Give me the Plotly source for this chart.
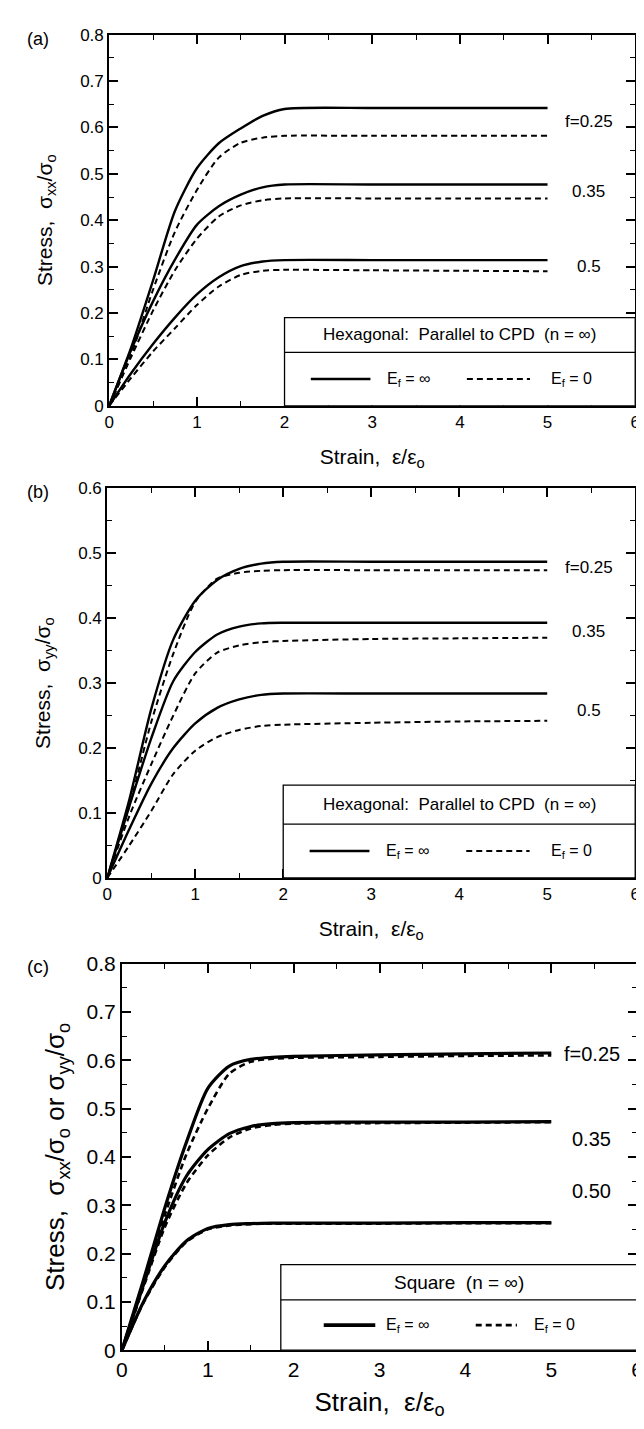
import plotly.graph_objects as go

# ---------------- data ----------------
strain = [0, 0.25, 0.5, 0.75, 1.0, 1.25, 1.5, 1.75, 2.0, 3.0, 4.0, 5.0]

# Panel (a): Hexagonal, parallel to CPD, sigma_xx
a_solid_025 = [0, 0.125, 0.27, 0.42, 0.512, 0.566, 0.598, 0.625, 0.640, 0.642, 0.642, 0.642]
a_dash_025  = [0, 0.11, 0.25, 0.375, 0.465, 0.535, 0.567, 0.578, 0.582, 0.582, 0.582, 0.582]
a_solid_035 = [0, 0.12, 0.225, 0.315, 0.39, 0.43, 0.455, 0.471, 0.477, 0.477, 0.477, 0.477]
a_dash_035  = [0, 0.105, 0.205, 0.292, 0.36, 0.408, 0.432, 0.443, 0.447, 0.447, 0.447, 0.447]
a_solid_050 = [0, 0.07, 0.133, 0.19, 0.24, 0.277, 0.301, 0.311, 0.314, 0.314, 0.314, 0.314]
a_dash_050  = [0, 0.06, 0.117, 0.167, 0.217, 0.257, 0.282, 0.291, 0.293, 0.292, 0.291, 0.290]

# Panel (b): Hexagonal, parallel to CPD, sigma_yy
b_solid_025 = [0, 0.12, 0.26, 0.367, 0.427, 0.459, 0.476, 0.484, 0.487, 0.487, 0.487, 0.487]
b_dash_025  = [0, 0.11, 0.24, 0.345, 0.425, 0.461, 0.470, 0.473, 0.474, 0.474, 0.474, 0.474]
b_solid_035 = [0, 0.11, 0.215, 0.303, 0.348, 0.375, 0.387, 0.392, 0.393, 0.393, 0.393, 0.393]
b_dash_035  = [0, 0.095, 0.175, 0.25, 0.315, 0.347, 0.358, 0.363, 0.365, 0.368, 0.369, 0.370]
b_solid_050 = [0, 0.075, 0.145, 0.20, 0.238, 0.262, 0.275, 0.282, 0.284, 0.284, 0.284, 0.284]
b_dash_050  = [0, 0.05, 0.103, 0.16, 0.196, 0.217, 0.228, 0.234, 0.236, 0.239, 0.241, 0.242]

# Panel (c): Square
c_solid_025 = [0, 0.145, 0.295, 0.43, 0.542, 0.588, 0.602, 0.606, 0.608, 0.611, 0.613, 0.615]
c_dash_025  = [0, 0.14, 0.28, 0.405, 0.50, 0.572, 0.597, 0.603, 0.605, 0.607, 0.609, 0.610]
c_solid_035 = [0, 0.135, 0.265, 0.36, 0.415, 0.448, 0.463, 0.469, 0.471, 0.472, 0.472, 0.473]
c_dash_035  = [0, 0.13, 0.255, 0.345, 0.403, 0.44, 0.459, 0.466, 0.469, 0.470, 0.471, 0.472]
c_solid_050 = [0, 0.10, 0.175, 0.226, 0.252, 0.260, 0.262, 0.263, 0.263, 0.263, 0.264, 0.264]
c_dash_050  = [0, 0.098, 0.172, 0.224, 0.250, 0.258, 0.261, 0.262, 0.262, 0.262, 0.263, 0.263]

labels_ab = ["f=0.25", "0.35", "0.5"]
labels_c = ["f=0.25", "0.35", "0.50"]
label_y_a = [0.612, 0.462, 0.300]
label_y_b = [0.478, 0.380, 0.258]
label_y_c = [0.612, 0.438, 0.330]

FONT = "Liberation Sans, Arial, Helvetica, sans-serif"
W, H = 644, 1429

def px_x(p):
    return p / W

def px_y(p):
    return 1 - p / H

fig = go.Figure()

panels = [
    dict(ax="", solids=[a_solid_025, a_solid_035, a_solid_050],
         dashes=[a_dash_025, a_dash_035, a_dash_050], lw=2.4, dw=2.0),
    dict(ax="2", solids=[b_solid_025, b_solid_035, b_solid_050],
         dashes=[b_dash_025, b_dash_035, b_dash_050], lw=2.4, dw=2.0),
    dict(ax="3", solids=[c_solid_025, c_solid_035, c_solid_050],
         dashes=[c_dash_025, c_dash_035, c_dash_050], lw=3.2, dw=2.6),
]

for p in panels:
    for ys in p["dashes"]:
        fig.add_trace(go.Scatter(x=strain, y=ys, mode="lines", xaxis="x" + p["ax"], yaxis="y" + p["ax"],
                                 line=dict(color="black", width=p["dw"], dash="6px,4px", shape="spline", smoothing=0.7),
                                 showlegend=False, hoverinfo="skip"))
    for ys in p["solids"]:
        fig.add_trace(go.Scatter(x=strain, y=ys, mode="lines", xaxis="x" + p["ax"], yaxis="y" + p["ax"],
                                 line=dict(color="black", width=p["lw"], shape="spline", smoothing=0.7),
                                 showlegend=False, hoverinfo="skip"))

def xaxis(domain, anchor, fs, title_fs, standoff):
    return dict(domain=domain, anchor=anchor, range=[0, 6], dtick=1, tick0=0,
                showline=True, linewidth=2, linecolor="black", mirror="ticks",
                ticks="inside", ticklen=9, tickwidth=1.5, tickcolor="black",
                minor=dict(ticks="inside", dtick=0.5, ticklen=5, tickwidth=1.2, tickcolor="black"),
                showgrid=False, zeroline=False,
                tickfont=dict(family=FONT, size=fs, color="black"),
                title=dict(text="Strain,  \u03b5/\u03b5<sub>o</sub>", font=dict(family=FONT, size=title_fs, color="black"),
                           standoff=standoff))

def yaxis(domain, anchor, top, fs, title, title_fs, standoff):
    return dict(domain=domain, anchor=anchor, range=[0, top], dtick=0.1, tick0=0,
                showline=True, linewidth=2, linecolor="black", mirror="ticks",
                ticks="inside", ticklen=9, tickwidth=1.5, tickcolor="black",
                minor=dict(ticks="inside", dtick=0.05, ticklen=5, tickwidth=1.2, tickcolor="black"),
                showgrid=False, zeroline=False,
                tickfont=dict(family=FONT, size=fs, color="black"),
                title=dict(text=title, font=dict(family=FONT, size=title_fs, color="black"), standoff=standoff))

fig.update_layout(
    width=W, height=H, margin=dict(l=0, r=0, t=0, b=0),
    paper_bgcolor="white", plot_bgcolor="white", showlegend=False,
    xaxis=xaxis([px_x(97), px_x(633)], "y", 17, 21, 18),
    yaxis=yaxis([px_y(392), px_y(15)], "x", 0.8, 17, "Stress,  \u03c3<sub>xx</sub>/\u03c3<sub>o</sub>", 21, 22),
    xaxis2=xaxis([px_x(95), px_x(633)], "y2", 17, 21, 18),
    yaxis2=yaxis([px_y(872), px_y(476)], "x2", 0.6, 17, "Stress,  \u03c3<sub>yy</sub>/\u03c3<sub>o</sub>", 21, 22),
    xaxis3=xaxis([px_x(110), px_x(635)], "y3", 21, 26, 12),
    yaxis3=yaxis([px_y(1352), px_y(959)], "x3", 0.8, 21,
                 "Stress,  \u03c3<sub>xx</sub>/\u03c3<sub>o</sub> or \u03c3<sub>yy</sub>/\u03c3<sub>o</sub>", 26, 14),
)

shapes = []
annotations = []

def legend_box(xr, yr, x0, top, div, header, hfs, solid_x, text1_x, dash_x, text2_x, fs, lw, dw):
    shapes.append(dict(type="rect", xref=xr, yref=yr, x0=x0, x1=6, y0=0, y1=top,
                       line=dict(color="black", width=1.3), fillcolor="white", layer="above"))
    shapes.append(dict(type="line", xref=xr, yref=yr, x0=x0, x1=6, y0=div, y1=div,
                       line=dict(color="black", width=1.3)))
    row = div / 2
    shapes.append(dict(type="line", xref=xr, yref=yr, x0=solid_x[0], x1=solid_x[1], y0=row, y1=row,
                       line=dict(color="black", width=lw)))
    shapes.append(dict(type="line", xref=xr, yref=yr, x0=dash_x[0], x1=dash_x[1], y0=row, y1=row,
                       line=dict(color="black", width=dw, dash="6px,4px")))
    annotations.append(dict(xref=xr, yref=yr, x=(x0 + 6) / 2, y=(top + div) / 2, text=header, showarrow=False,
                            font=dict(family=FONT, size=hfs, color="black"), xanchor="center", yanchor="middle"))
    annotations.append(dict(xref=xr, yref=yr, x=text1_x, y=row, text="E<sub>f</sub> = \u221e", showarrow=False,
                            font=dict(family=FONT, size=fs, color="black"), xanchor="left", yanchor="middle"))
    annotations.append(dict(xref=xr, yref=yr, x=text2_x, y=row, text="E<sub>f</sub> = 0", showarrow=False,
                            font=dict(family=FONT, size=fs, color="black"), xanchor="left", yanchor="middle"))

hex_head = "Hexagonal:  Parallel to CPD  (n = \u221e)"
legend_box("x", "y", 2.0, 0.19, 0.115, hex_head, 17, (2.3, 2.98), 3.15, (4.08, 4.8), 5.02, 16, 2.4, 2.0)
legend_box("x2", "y2", 2.0, 0.143, 0.083, hex_head, 17, (2.3, 2.98), 3.15, (4.08, 4.8), 5.02, 16, 2.4, 2.0)
legend_box("x3", "y3", 1.85, 0.177, 0.104, "Square  (n = \u221e)", 19, (2.35, 2.95), 3.05, (4.12, 4.6), 4.78, 16, 3.6, 2.6)

for xr, yr, labs, ys, fs in [("x", "y", labels_ab, label_y_a, 17), ("x2", "y2", labels_ab, label_y_b, 17),
                              ("x3", "y3", labels_c, label_y_c, 20)]:
    for lab, yv in zip(labs, ys):
        annotations.append(dict(xref=xr, yref=yr, x=5.47, y=yv, text=lab, showarrow=False,
                                font=dict(family=FONT, size=fs, color="black"), xanchor="center", yanchor="middle"))

for txt, yy, fs in [("(a)", 19, 18), ("(b)", 480, 18), ("(c)", 962, 19)]:
    annotations.append(dict(xref="paper", yref="paper", x=px_x(24), y=px_y(yy), text=txt, showarrow=False,
                            font=dict(family=FONT, size=fs, color="black"), xanchor="center", yanchor="middle"))

fig.update_layout(shapes=shapes, annotations=annotations)
fig.write_html("out.html")
